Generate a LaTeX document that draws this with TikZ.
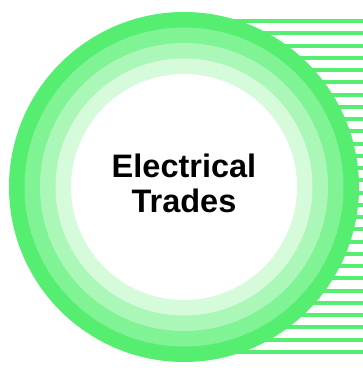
\documentclass[tikz,border=0pt]{standalone}
\usepackage{fontspec}
\setmainfont{Liberation Sans}
\definecolor{gA}{HTML}{55EE70}
\definecolor{gB}{HTML}{80F394}
\definecolor{gC}{HTML}{AAF7B7}
\definecolor{gD}{HTML}{D5FBDB}
\begin{document}
\begin{tikzpicture}[x=1pt,y=1pt,
  stripe/.style={draw=gA,line width=4pt},
  label/.style={font=\fontsize{32.5}{35}\selectfont\bfseries,inner sep=0pt,anchor=base}]
\useasboundingbox[fill=white] (0,0) rectangle (363,368);
\coordinate (ctr) at (184,181);
% speed stripes to the right
\foreach \i in {0,...,27}{
  \pgfmathsetmacro{\yy}{347-\i*12.26}
  \draw[stripe] (184,\yy) -- (363,\yy);
}
% rings
\fill[gA] (ctr) circle (175);
\fill[gB] (ctr) circle (159.5);
\fill[gC] (ctr) circle (144);
\fill[gD] (ctr) circle (128.5);
\fill[white] (ctr) circle (113);
\node[label] (l1) at (184,190) {Electrical};
\node[label] (l2) at (184,155) {Trades};
\end{tikzpicture}
\end{document}
